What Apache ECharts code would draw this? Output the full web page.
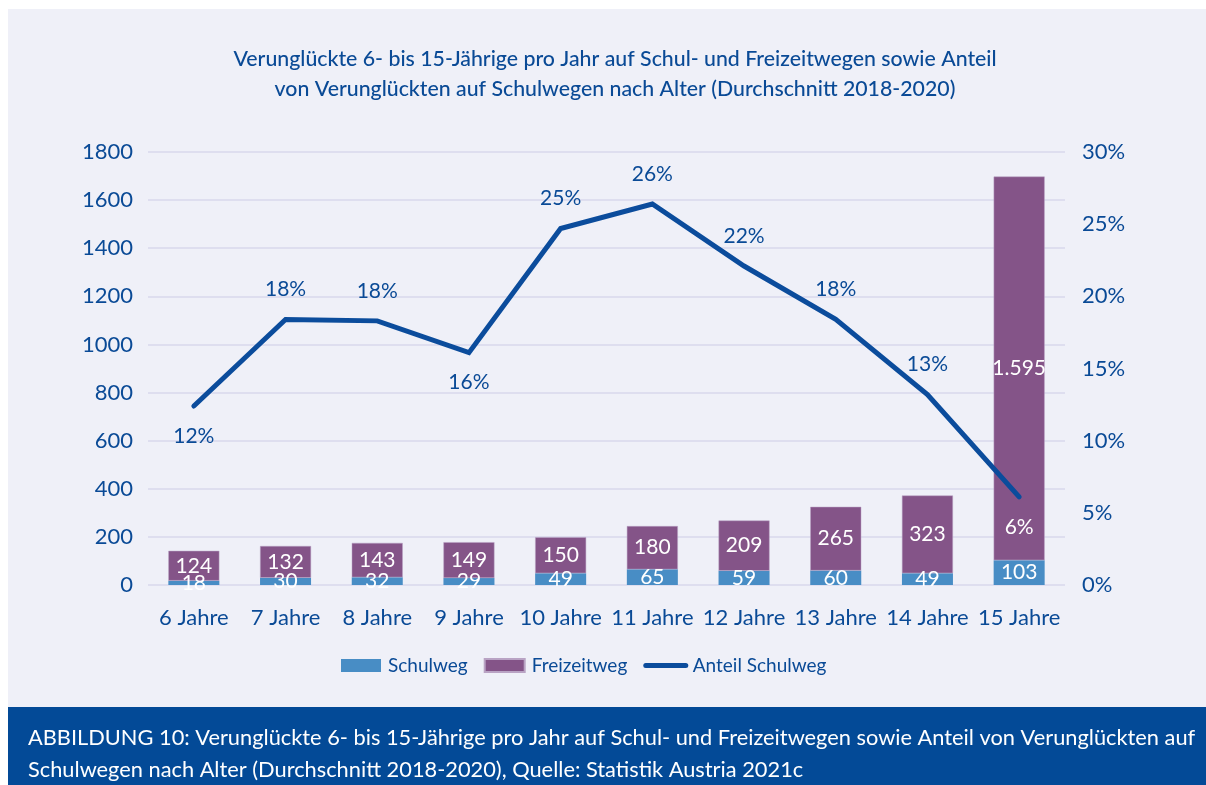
<!DOCTYPE html>
<html>
<head>
<meta charset="utf-8">
<script src="https://cdn.jsdelivr.net/npm/echarts@6/dist/echarts.min.js"></script>
<style>
  html, body { margin: 0; padding: 0; background: #ffffff; }
  #chart { width: 1206px; height: 785px; }
</style>
</head>
<body>
<div id="chart"></div>
<script>
  var categories = ['6 Jahre', '7 Jahre', '8 Jahre', '9 Jahre', '10 Jahre', '11 Jahre', '12 Jahre', '13 Jahre', '14 Jahre', '15 Jahre'];
  var schulweg = [18, 30, 32, 29, 49, 65, 59, 60, 49, 103];
  var freizeitweg = [124, 132, 143, 149, 150, 180, 209, 265, 323, 1595];
  var anteil = [12.4, 18.4, 18.3, 16.1, 24.7, 26.4, 22.1, 18.4, 13.2, 6.1];
  var leftTicks = [0, 1800, 200];
  var rightTicks = [0, 30, 5];

  var blue = '#0a4a96';
  var font = 'Lato, "Open Sans", sans-serif';

  // labels below the line for these points
  var below = { 0: true, 3: true, 9: true };
  var anteilData = anteil.map(function (v, i) {
    var item = { value: v };
    if (below[i]) {
      item.label = { position: 'bottom', color: i === 9 ? '#ffffff' : blue };
    }
    return item;
  });

  function fmt(n) {
    return String(n).replace(/\B(?=(\d{3})+(?!\d))/g, '.');
  }

  var chart = echarts.init(document.getElementById('chart'));
  chart.setOption({
    backgroundColor: '#ffffff',
    textStyle: { fontFamily: font },
    graphic: [
      { type: 'rect', left: 8, top: 9, z: -10, shape: { width: 1198, height: 698 }, style: { fill: '#eff0f8' } },
      { type: 'rect', left: 8, top: 707, z: -10, shape: { width: 1198, height: 78 }, style: { fill: '#034a97' } },
      {
        type: 'text', x: 615, y: 44,
        style: {
          text: 'Verunglückte 6- bis 15-Jährige pro Jahr auf Schul- und Freizeitwegen sowie Anteil\nvon Verunglückten auf Schulwegen nach Alter (Durchschnitt 2018-2020)',
          fill: blue, font: '500 21.3px ' + font, lineHeight: 30, align: 'center'
        }
      },
      {
        type: 'text', left: 28, top: 722,
        style: {
          text: 'ABBILDUNG 10: Verunglückte 6- bis 15-Jährige pro Jahr auf Schul- und Freizeitwegen sowie Anteil von Verunglückten auf\nSchulwegen nach Alter (Durchschnitt 2018-2020), Quelle: Statistik Austria 2021c',
          fill: '#ffffff', font: '21.8px ' + font, lineHeight: 32
        }
      }
    ],
    legend: {
      bottom: 105,
      left: 336,
      itemWidth: 40,
      itemHeight: 13,
      itemGap: 16,
      textStyle: { color: blue, fontSize: 19, fontFamily: font, padding: [0, 0, 0, 2] },
      data: [
        { name: 'Schulweg', icon: 'rect' },
        { name: 'Freizeitweg', icon: 'rect' },
        { name: 'Anteil Schulweg', lineStyle: { width: 5, color: '#0b4c9c' } }
      ]
    },
    grid: { left: 148, right: 141, top: 152, bottom: 200 },
    xAxis: {
      type: 'category',
      data: categories,
      axisLine: { show: false },
      axisTick: { show: false },
      axisLabel: { color: blue, fontSize: 22, margin: 22, interval: 0, fontFamily: font }
    },
    yAxis: [
      {
        type: 'value',
        min: leftTicks[0], max: leftTicks[1], interval: leftTicks[2],
        axisLabel: { color: blue, fontSize: 22, margin: 15, fontFamily: font, formatter: function (v) { return String(v); } },
        splitLine: { lineStyle: { color: '#d9d8ec', width: 1.5 } }
      },
      {
        type: 'value',
        min: rightTicks[0], max: rightTicks[1], interval: rightTicks[2],
        axisLabel: { color: blue, fontSize: 22, margin: 17, formatter: '{value}%', fontFamily: font },
        splitLine: { show: false }
      }
    ],
    series: [
      {
        name: 'Schulweg',
        type: 'bar',
        stack: 'total',
        barWidth: 51,
        itemStyle: { color: '#488dc5' },
        label: { show: true, position: 'inside', color: '#ffffff', fontSize: 21, fontFamily: font },
        data: schulweg
      },
      {
        name: 'Freizeitweg',
        type: 'bar',
        stack: 'total',
        barWidth: 51,
        itemStyle: { color: '#845488', borderColor: '#b9a3c4', borderWidth: 0.5 },
        label: {
          show: true, position: 'inside', color: '#ffffff', fontSize: 21, fontFamily: font,
          formatter: function (p) { return fmt(p.value); }
        },
        data: freizeitweg
      },
      {
        name: 'Anteil Schulweg',
        type: 'line',
        yAxisIndex: 1,
        symbol: 'circle',
        symbolSize: 1,
        showSymbol: true,
        z: 5,
        lineStyle: { color: '#0b4c9c', width: 5, cap: 'round', join: 'miter' },
        itemStyle: { color: 'rgba(11,76,156,0)' },
        label: {
          show: true, position: 'top', distance: 19, color: blue, fontSize: 21, fontFamily: font,
          formatter: function (p) { return Math.round(p.value) + '%'; }
        },
        data: anteilData
      }
    ]
  });
</script>
</body>
</html>
